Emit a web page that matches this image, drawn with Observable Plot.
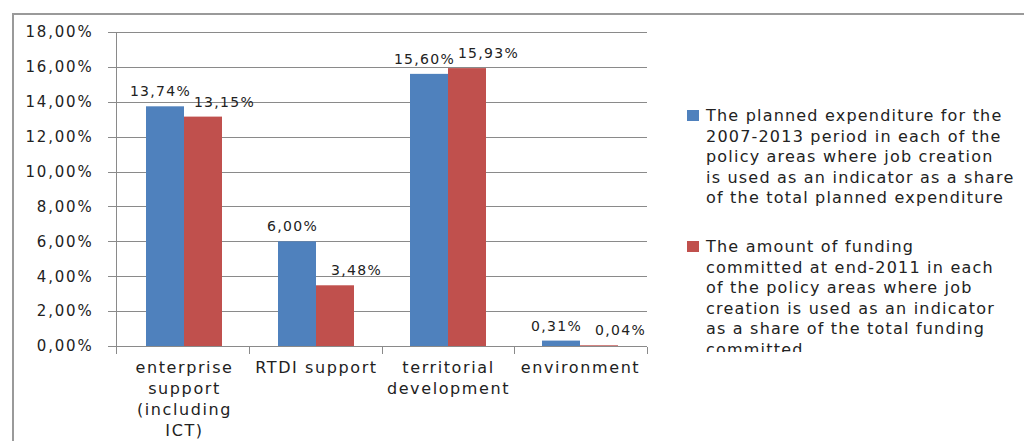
<!DOCTYPE html>
<html>
<head>
<meta charset="utf-8">
<script src="https://cdn.jsdelivr.net/npm/d3@7"></script>
<script src="https://cdn.jsdelivr.net/npm/@observablehq/plot@0.6"></script>
<style>
  html, body { margin: 0; padding: 0; background: #fff; width: 1024px; height: 441px; overflow: hidden; }
  #title { position: absolute; left: 10px; top: 0; width: 1014px; height: 12px; overflow: hidden; }
  #title span { position: absolute; left: 0; top: -37px; font-family: "Liberation Serif", serif; font-weight: bold; font-size: 33px; line-height: 38px; white-space: nowrap; color: #111; }
  #frame { position: absolute; left: 12px; top: 13px; width: 1020px; height: 440px; border-left: 2px solid #9a9a9a; border-top: 2px solid #9a9a9a; box-sizing: border-box; z-index: 2; pointer-events: none; }
  #chart { position: absolute; left: 0; top: 0; }
  #chart svg { background: none !important; overflow: visible; }
  #chart text { fill: #222; }
  #legend { position: absolute; left: 687px; top: 106px; width: 337px; height: 246px; overflow: hidden;
    font-family: "DejaVu Sans", sans-serif; font-size: 16px; line-height: 20.5px; letter-spacing: 1.2px; color: #222; }
  .item { position: relative; padding-left: 19px; white-space: pre; }
  .item + .item { margin-top: 28.5px; }
  .swatch { position: absolute; left: 0; top: 4px; width: 12px; height: 11px; }
</style>
</head>
<body>
<div id="title"><span>policy areas and by</span></div>
<div id="frame"></div>
<div id="chart"></div>
<div id="legend"></div>
<script>
const categories = ["enterprise support (including ICT)", "RTDI support", "territorial development", "environment"];
const categoryLabels = ["enterprise\nsupport\n(including\nICT)", "RTDI support", "territorial\ndevelopment", "environment"];
const plannedShare = [13.74, 6.00, 15.60, 0.31];
const committedShare = [13.15, 3.48, 15.93, 0.04];
const yTicks = [0, 2, 4, 6, 8, 10, 12, 14, 16, 18];
const seriesNames = [
  "The planned expenditure for the\n2007-2013 period in each of the\npolicy areas where job creation\nis used as an indicator as a share\nof the total planned expenditure",
  "The amount of funding\ncommitted at end-2011 in each\nof the policy areas where job\ncreation is used as an indicator\nas a share of the total funding\ncommitted"
];
const seriesColors = ["#4F81BD", "#C0504D"];

const fmt = v => v.toFixed(2).replace(".", ",") + "%";
const rows = categories.map((c, i) => ({category: c, planned: plannedShare[i], committed: committedShare[i]}));

const gridColor = "#8a8a8a";
const lines = (index, scales, values, dimensions) => {
  const {width, height, marginLeft, marginRight, marginBottom} = dimensions;
  const g = d3.create("svg:g").attr("stroke", gridColor).attr("stroke-width", 1).attr("shape-rendering", "crispEdges");
  const x0 = marginLeft, x1 = width - marginRight;
  for (const t of yTicks) {
    const y = Math.round(scales.y(t)) + 0.5;
    g.append("line").attr("x1", x0 - 8).attr("x2", x1).attr("y1", y).attr("y2", y);
  }
  const y0 = Math.round(scales.y(0)) + 0.5;
  const yTop = Math.round(scales.y(yTicks[yTicks.length - 1])) + 0.5;
  g.append("line").attr("x1", x0 + 0.5).attr("x2", x0 + 0.5).attr("y1", yTop).attr("y2", y0);
  const step = (x1 - x0) / categories.length;
  for (let i = 0; i <= categories.length; i++) {
    const x = Math.round(x0 + i * step) + 0.5;
    g.append("line").attr("x1", x).attr("x2", x).attr("y1", y0).attr("y2", y0 + 7);
  }
  return g.node();
};

const chart = Plot.plot({
  width: 660,
  height: 441,
  marginLeft: 116,
  marginRight: 13,
  marginTop: 32,
  marginBottom: 95,
  style: {fontFamily: "DejaVu Sans, sans-serif", background: "none", color: "#222"},
  x: {domain: categories, paddingInner: 0.714, paddingOuter: 0.357, axis: null},
  y: {domain: [0, 18], axis: null},
  marks: [
    lines,
    Plot.barY(rows, {x: "category", y: "planned", fill: seriesColors[0], dx: -19}),
    Plot.barY(rows, {x: "category", y: "committed", fill: seriesColors[1], dx: 19}),
    Plot.text(rows, {x: "category", y: "planned", text: d => fmt(d.planned), dx: -24, dy: -15, fontSize: 14}),
    Plot.text(rows, {x: "category", y: "committed", text: d => fmt(d.committed), dx: 40, dy: -15, fontSize: 14}),
    Plot.text(yTicks, {y: d => d, text: d => fmt(d), frameAnchor: "left", textAnchor: "end", dx: -23, fontSize: 15}),
    Plot.text(categories, {x: d => d, text: (d, i) => categoryLabels[i], frameAnchor: "bottom", lineAnchor: "top", dy: 12, fontSize: 16, lineHeight: 1.3})
  ]
});
document.getElementById("chart").appendChild(chart);

const spacing = {"14": "1.3px", "15": "1.8px", "16": "1.6px"};
chart.querySelectorAll("g[font-size]").forEach(g => {
  const s = spacing[g.getAttribute("font-size")];
  if (s) g.querySelectorAll("text").forEach(t => t.style.letterSpacing = s);
});

const legend = document.getElementById("legend");
seriesNames.forEach((name, i) => {
  const item = document.createElement("div");
  item.className = "item";
  const sw = document.createElement("span");
  sw.className = "swatch";
  sw.style.background = seriesColors[i];
  item.appendChild(sw);
  item.appendChild(document.createTextNode(name));
  legend.appendChild(item);
});
</script>
</body>
</html>
